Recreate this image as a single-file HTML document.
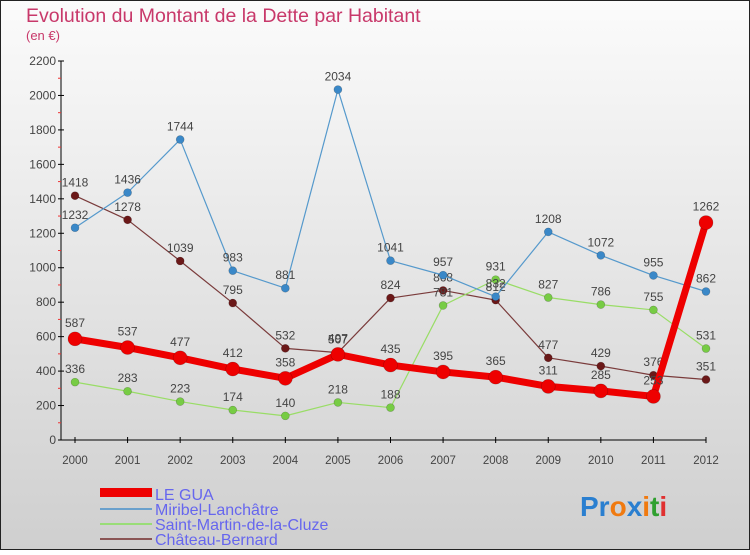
<!DOCTYPE html>
<html><head><meta charset="utf-8"><style>
body{margin:0;width:750px;height:550px;overflow:hidden;font-family:"Liberation Sans",sans-serif}
</style></head><body>
<svg id="c" width="750" height="550" xmlns="http://www.w3.org/2000/svg">
<defs><linearGradient id="bg" x1="0" y1="0" x2="0" y2="1"><stop offset="0" stop-color="#fbfbfb"/><stop offset="1" stop-color="#cfcfcf"/></linearGradient></defs>
<rect x="0.5" y="0.5" width="749" height="549" fill="url(#bg)" stroke="#222"/>
<text x="26" y="22" font-size="19.5" fill="#c8386a">Evolution du Montant de la Dette par Habitant</text>
<text x="26" y="40" font-size="13" fill="#c8386a">(en €)</text>
<g id="axes"></g><g id="series"></g>
<g>
<rect x="100" y="488" width="52" height="9" fill="#e00"/>
<text x="155" y="500" font-size="16" fill="#6666ee">LE GUA</text>
<rect x="100" y="508" width="52" height="2" fill="#6aa0cc"/>
<text x="155" y="515" font-size="16" fill="#6666ee">Miribel-Lanchâtre</text>
<rect x="100" y="523" width="52" height="2" fill="#99dd77"/>
<text x="155" y="530" font-size="16" fill="#6666ee">Saint-Martin-de-la-Cluze</text>
<rect x="100" y="538" width="52" height="2" fill="#8a5555"/>
<text x="155" y="545" font-size="16" fill="#6666ee">Château-Bernard</text>
</g>
<text x="580" y="516" font-size="28" font-weight="bold"><tspan fill="#2a7fd0">Pr</tspan><tspan fill="#f07a10">o</tspan><tspan fill="#2a7fd0">x</tspan><tspan fill="#f07a10">i</tspan><tspan fill="#30a030">t</tspan><tspan fill="#e03030">i</tspan></text>
</svg>
<script>
const years=["2000","2001","2002","2003","2004","2005","2006","2007","2008","2009","2010","2011","2012"];
const yTicks=[0,200,400,600,800,1000,1200,1400,1600,1800,2000,2200];
const leGua=[587,537,477,412,358,497,435,395,365,311,285,253,1262];
const miribel=[1232,1436,1744,983,881,2034,1041,957,832,1208,1072,955,862];
const saintMartin=[336,283,223,174,140,218,188,781,931,827,786,755,531];
const chateau=[1418,1278,1039,795,532,507,824,868,812,477,429,376,351];
const NS="http://www.w3.org/2000/svg";
const x0=75,x1=706,yBase=440,yTop=61,vMax=2200;
const xs=i=>x0+(x1-x0)*i/(years.length-1);
const ys=v=>yBase-(yBase-yTop)*v/vMax;
function mk(t,a,p){const e=document.createElementNS(NS,t);for(const k in a)e.setAttribute(k,a[k]);p.appendChild(e);return e;}
const ax=document.getElementById('axes');
let l=mk('line',{x1:61,y1:yTop,x2:61,y2:yBase,stroke:'#000'},ax);


l=mk('line',{x1:61,y1:yBase,x2:x1,y2:yBase,stroke:'#000'},ax);


yTicks.forEach((v,i)=>{const y=ys(v);
 mk('line',{x1:58,y1:y,x2:64,y2:y,stroke:'#000'},ax);
 if(i<yTicks.length-1)mk('line',{x1:58,y1:ys(v+100),x2:61,y2:ys(v+100),stroke:'#e33'},ax);
 const t=mk('text',{x:56,y:y+4,'font-size':12,fill:'#444','text-anchor':'end'},ax);t.textContent=v;
 
 
});
years.forEach((yr,i)=>{const x=xs(i);
 mk('line',{x1:x,y1:yBase-3,x2:x,y2:yBase+3,stroke:'#000'},ax);
 const t=mk('text',{x:x,y:yBase+24,'font-size':11.5,fill:'#444','text-anchor':'middle'},ax);t.textContent=yr;
 
 
});
const sg=document.getElementById('series');
function series(vals,name,col,dot,w,r){
 const g=mk('g',{},sg);
 
 
 const pl=mk('polyline',{points:vals.map((v,i)=>xs(i)+','+ys(v)).join(' '),fill:'none',stroke:col,'stroke-width':w,'stroke-linejoin':'round'},g);
 
 
 vals.forEach((v,i)=>{
  const c=mk('circle',{cx:xs(i),cy:ys(v),r:r,fill:dot,stroke:'rgba(0,0,0,0.25)','stroke-width':0.6},g);
  
  
  const t=mk('text',{x:xs(i),y:ys(v)-r-5,'font-size':12,fill:'#444','text-anchor':'middle'},g);t.textContent=v;
  
  
 });
}
series(chateau,'chateau-bernard','#7a3b3b','#6b1818',1.2,4);
series(saintMartin,'saint-martin-de-la-cluze','#99dd66','#77cc44',1.2,4);
series(miribel,'miribel-lanchatre','#5599cc','#3a88c8',1.2,4);
series(leGua,'le-gua','#ee0000','#ee0000',7,7);
</script>
</body></html>
